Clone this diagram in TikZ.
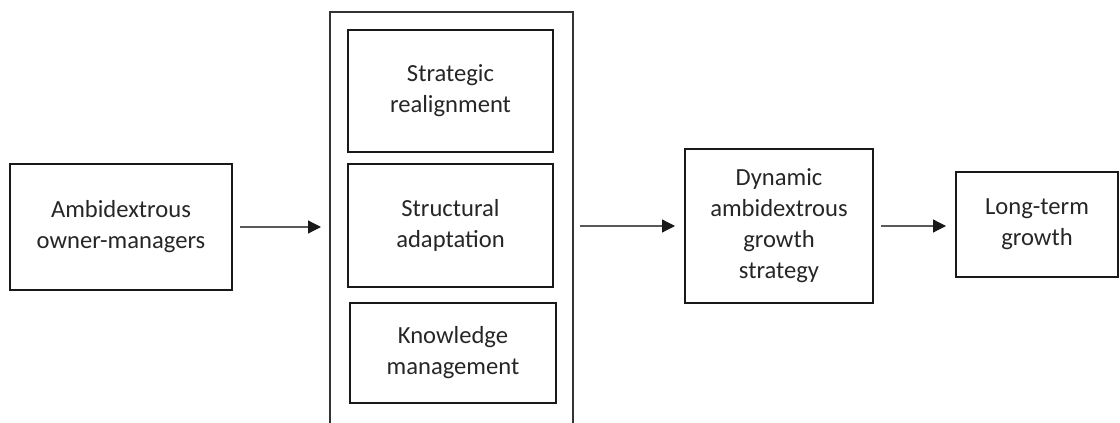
\documentclass[tikz,border=0pt]{standalone}
\usepackage{fontspec}
\setmainfont{Carlito}
\usetikzlibrary{arrows.meta}

\begin{document}
\begin{tikzpicture}[x=0.5pt,y=0.5pt,
    >={Triangle[length=6.5pt,width=6.5pt,color=black!90]},
    line join=miter,
    box/.style={draw=black!90,line width=1pt,inner sep=0pt,align=center,
      font=\fontsize{12.3}{15.5}\selectfont,text=black!85},
    frame/.style={draw=black!80,line width=.8pt},
    flow/.style={->,draw=black!65,line width=.6pt,
      shorten <=3.5pt,shorten >=4.5pt}]
    \useasboundingbox (0,0) rectangle (1120,423);

    % Left-hand input box.
    \node[box,minimum width=111pt,minimum height=63pt] (owner) at (121,196)
      {Ambidextrous\\owner-managers};

    % The open frame and the three mechanisms inside it.
    \coordinate (frameSW) at (330,0);
    \coordinate (frameNE) at (573,411);
    \draw[frame] (frameSW) -- (frameSW |- frameNE) -- (frameNE)
      -- (frameNE |- frameSW);
    \node[box,minimum width=102.5pt,minimum height=61pt] (realign) at (450.5,332)
      {Strategic\\realignment};
    \node[box,minimum width=102.5pt,minimum height=61.5pt] (adapt) at (450.5,197.5)
      {Structural\\adaptation};
    \node[box,minimum width=103pt,minimum height=50pt] (knowledge) at (453,70)
      {Knowledge\\management};

    % Outcomes on the right.
    \node[box,minimum width=94pt,minimum height=77pt] (dynamic) at (779,197)
      {Dynamic\\ambidextrous\\growth\\strategy};
    \node[box,minimum width=81pt,minimum height=52.5pt] (longterm) at (1037,198.5)
      {Long-term\\growth};

    \draw[flow] (owner.east) -- (owner.east -| frameSW);
    \draw[flow] (frameNE |- dynamic.west) -- (dynamic.west);
    \draw[flow] (dynamic.east) -- (dynamic.east -| longterm.west);
  \end{tikzpicture}
\end{document}
